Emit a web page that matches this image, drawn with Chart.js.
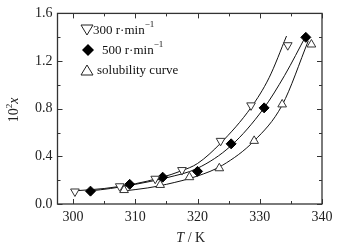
<!DOCTYPE html>
<html><head><meta charset="utf-8">
<script src="https://cdn.jsdelivr.net/npm/chart.js@4/dist/chart.umd.min.js"></script>
<style>html,body{margin:0;padding:0;background:#fff}#w{width:342px;height:248px}</style>
</head><body><div id="w"><canvas id="c" width="342" height="248"></canvas></div>
<script>
// measured points
const t300 = [300.3, 307.5, 313.2, 317.5, 323.7, 328.6, 334.5];
const x300 = [0.105, 0.149, 0.212, 0.285, 0.530, 0.828, 1.333];
const t500 = [302.8, 309.1, 314.4, 320.0, 325.4, 330.7, 337.4];
const x500 = [0.108, 0.165, 0.225, 0.274, 0.505, 0.807, 1.399];
const tSol = [308.2, 314.0, 318.7, 323.5, 329.1, 333.6, 338.3];
const xSol = [0.117, 0.160, 0.225, 0.300, 0.530, 0.836, 1.339];
// fitted curves
const fit300T = [300, 305, 310, 314, 317.5, 320, 323.7, 328.6, 331.5, 334.3];
const fit300X = [0.11, 0.13, 0.17, 0.22, 0.28, 0.34, 0.51, 0.81, 1.06, 1.41];
const fit500T = [302.8, 306, 310, 315, 320, 325.4, 330.6, 334, 337.5];
const fit500X = [0.11, 0.13, 0.165, 0.22, 0.30, 0.49, 0.80, 1.08, 1.42];
const fitSolT = [308.2, 312, 315, 320, 324, 329.1, 333.6, 337.8];
const fitSolX = [0.11, 0.135, 0.165, 0.235, 0.325, 0.53, 0.83, 1.37];
const legendLabels = ['300 r\u00B7min', '500 r\u00B7min', 'solubility curve'];
const xTitle = 'T / K';
const yTitle = '10\u00B2x';

const pts = (a, b) => a.map((v, i) => ({x: v, y: b[i]}));
const FONT = '"Liberation Serif","DejaVu Serif",serif';

const lineDs = (tt, xx) => ({type: 'line', data: pts(tt, xx), borderColor: '#111', borderWidth: 1,
  pointRadius: 0, tension: 0.4, cubicInterpolationMode: 'monotone', fill: false, order: 2});

const frame = {
  id: 'frame',
  afterDraw(chart) {
    const ctx = chart.ctx, a = chart.chartArea, xs = chart.scales.x, ys = chart.scales.y;
    ctx.save();
    ctx.strokeStyle = '#333'; ctx.lineWidth = 1.3;
    ctx.strokeRect(a.left, a.top, a.right - a.left, a.bottom - a.top);
    ctx.lineWidth = 1;
    for (let v = 300; v <= 340; v += 5) {
      const px = Math.round(xs.getPixelForValue(v)) + 0.5;
      const L = (v % 10 === 0) ? 5 : 3;
      ctx.beginPath();
      ctx.moveTo(px, a.bottom); ctx.lineTo(px, a.bottom - L);
      ctx.moveTo(px, a.top); ctx.lineTo(px, a.top + L);
      ctx.stroke();
    }
    for (let k = 0; k <= 8; k++) {
      const v = k * 0.2;
      const py = Math.round(ys.getPixelForValue(v)) + 0.5;
      const L = (k % 2 === 0) ? 5 : 3;
      ctx.beginPath();
      ctx.moveTo(a.left, py); ctx.lineTo(a.left + L, py);
      ctx.moveTo(a.right, py); ctx.lineTo(a.right - L, py);
      ctx.stroke();
    }
    // axis titles
    ctx.fillStyle = '#222';
    ctx.textBaseline = 'alphabetic';
    const cx = (a.left + a.right) / 2 + 1;
    ctx.font = 'italic 14px ' + FONT;
    const wT = ctx.measureText('T').width;
    ctx.font = '14px ' + FONT;
    const wR = ctx.measureText(' / K').width;
    let sx = cx - (wT + wR) / 2;
    ctx.font = 'italic 14px ' + FONT; ctx.textAlign = 'left';
    ctx.fillText('T', sx, 242);
    ctx.font = '14px ' + FONT;
    ctx.fillText(' / K', sx + wT, 242);
    ctx.save();
    ctx.translate(18, 110);
    ctx.rotate(-Math.PI / 2);
    ctx.font = '14px ' + FONT;
    const w10 = ctx.measureText('10').width;
    ctx.font = '9px ' + FONT;
    const w2 = ctx.measureText('2').width;
    ctx.font = 'italic 14px ' + FONT;
    const wx = ctx.measureText('x').width;
    let s = -(w10 + w2 + wx) / 2;
    ctx.font = '14px ' + FONT; ctx.fillText('10', s, 0);
    ctx.font = '9px ' + FONT; ctx.fillText('2', s + w10, -6);
    ctx.font = 'italic 14px ' + FONT; ctx.fillText('x', s + w10 + w2, 0);
    ctx.restore();
    // legend
    const rows = [30, 50, 70];
    const mx = 87;
    ctx.strokeStyle = '#222'; ctx.lineWidth = 1;
    ctx.beginPath(); ctx.moveTo(mx - 6, rows[0] - 5); ctx.lineTo(mx + 6, rows[0] - 5); ctx.lineTo(mx, rows[0] + 5); ctx.closePath(); ctx.stroke();
    ctx.fillStyle = '#000';
    ctx.beginPath(); ctx.moveTo(mx + 1, rows[1] - 6); ctx.lineTo(mx + 7, rows[1]); ctx.lineTo(mx + 1, rows[1] + 6); ctx.lineTo(mx - 5, rows[1]); ctx.closePath(); ctx.fill();
    ctx.beginPath(); ctx.moveTo(mx - 6, rows[2] + 5); ctx.lineTo(mx + 6, rows[2] + 5); ctx.lineTo(mx, rows[2] - 5); ctx.closePath(); ctx.stroke();
    ctx.fillStyle = '#111'; ctx.textAlign = 'left'; ctx.textBaseline = 'middle';
    const tx = [93, 102, 97];
    for (let i = 0; i < 3; i++) {
      ctx.font = '13px ' + FONT;
      ctx.fillText(legendLabels[i], tx[i], rows[i] + 1);
      if (i < 2) {
        const w = ctx.measureText(legendLabels[i]).width;
        ctx.font = '9px ' + FONT;
        ctx.fillText('\u22121', tx[i] + w, rows[i] - 5);
      }
    }
    ctx.restore();
  }
};

new Chart(document.getElementById('c'), {
  type: 'scatter',
  data: {
    datasets: [
      lineDs(fit300T, fit300X),
      lineDs(fit500T, fit500X),
      lineDs(fitSolT, fitSolX),
      {label: '300', data: pts(t300, x300), pointStyle: 'triangle', rotation: 180, pointRadius: 5,
        pointBackgroundColor: '#fff', pointBorderColor: '#333', pointBorderWidth: 1, order: 1},
      {label: '500', data: pts(t500, x500), pointStyle: 'rectRot', pointRadius: 5,
        pointBackgroundColor: '#000', pointBorderColor: '#000', pointBorderWidth: 1, order: 1},
      {label: 'sol', data: pts(tSol, xSol), pointStyle: 'triangle', pointRadius: 5,
        pointBackgroundColor: '#fff', pointBorderColor: '#333', pointBorderWidth: 1, order: 1}
    ]
  },
  options: {
    responsive: false, animation: false, events: [],
    layout: {padding: {top: 8, right: 20, left: 0, bottom: 0}},
    plugins: {legend: {display: false}, tooltip: {enabled: false}},
    scales: {
      x: {type: 'linear', min: 297.5, max: 340,
        grid: {display: false, drawTicks: false}, border: {display: false},
        ticks: {stepSize: 10, includeBounds: false, color: '#222', padding: 5, font: {family: FONT, size: 14},
          callback: v => String(v)},
        afterFit: s => { s.height = 44; }},
      y: {type: 'linear', min: 0, max: 1.6,
        grid: {display: false, drawTicks: false}, border: {display: false},
        ticks: {stepSize: 0.4, includeBounds: false, color: '#222', padding: 5, font: {family: FONT, size: 14},
          callback: v => Number(v).toFixed(1)},
        afterFit: s => { s.width = 57.5; }}
    }
  },
  plugins: [frame]
});
</script></body></html>
